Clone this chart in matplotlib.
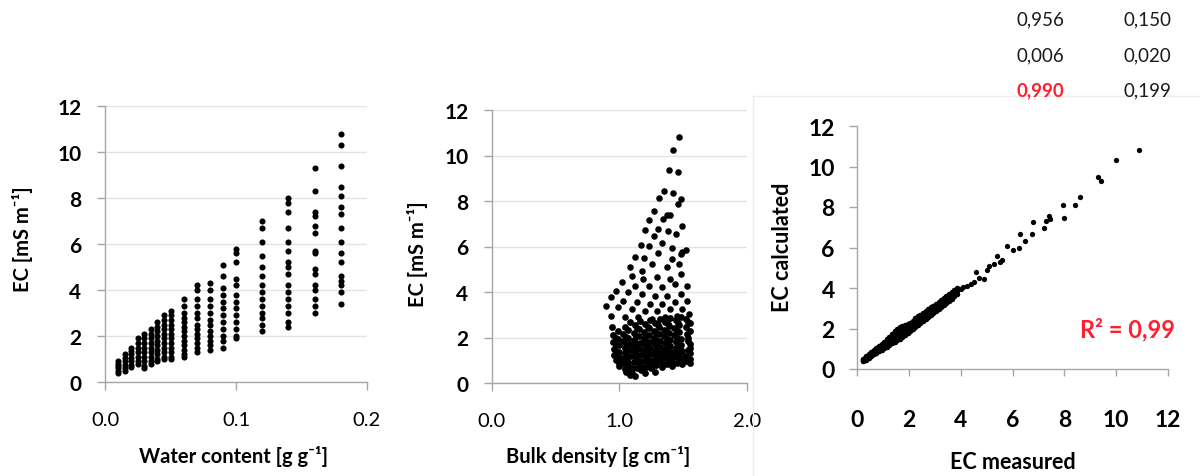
import matplotlib
matplotlib.use("Agg")
import matplotlib.pyplot as plt
from matplotlib.lines import Line2D

plt.rcParams['font.family'] = ['Lato', 'DejaVu Sans']

# ---- panel 1: EC vs water content (one column of points per water content)
wc_levels = [0.01, 0.015, 0.02, 0.025, 0.03, 0.035, 0.04, 0.045, 0.05,
             0.06, 0.07, 0.08, 0.09, 0.10, 0.12, 0.14, 0.16, 0.18]
ec_by_wc = [
    [0.9, 0.8, 0.7, 0.6, 0.5, 0.4],
    [1.2, 1.05, 0.9, 0.75, 0.6, 0.5],
    [1.5, 1.35, 1.2, 1.05, 0.9, 0.75, 0.65],
    [1.9, 1.7, 1.5, 1.3, 1.1, 0.9, 0.8],
    [2.1, 1.9, 1.7, 1.5, 1.3, 1.1, 0.9, 0.7, 0.6],
    [2.3, 2.1, 1.9, 1.7, 1.5, 1.3, 1.1, 0.9, 0.8],
    [2.6, 2.4, 2.2, 2.0, 1.8, 1.6, 1.4, 1.2, 1.0, 0.9],
    [2.9, 2.7, 2.5, 2.3, 2.1, 1.9, 1.7, 1.5, 1.3, 1.1, 1.0],
    [3.1, 2.9, 2.7, 2.5, 2.3, 2.1, 1.9, 1.7, 1.5, 1.3, 1.1, 1.0],
    [3.6, 3.3, 3.0, 2.8, 2.6, 2.4, 2.2, 2.0, 1.8, 1.6, 1.4, 1.2, 1.1],
    [4.2, 4.0, 3.6, 3.3, 3.0, 2.8, 2.5, 2.3, 2.1, 1.9, 1.7, 1.5, 1.3],
    [4.3, 4.0, 3.6, 3.3, 3.0, 2.7, 2.5, 2.2, 2.0, 1.8, 1.6, 1.4],
    [5.1, 4.6, 4.1, 3.8, 3.5, 3.2, 2.9, 2.6, 2.3, 2.0, 1.8, 1.5],
    [5.8, 5.6, 5.2, 4.5, 4.2, 3.8, 3.5, 3.2, 2.9, 2.6, 2.3, 2.0, 1.9],
    [7.0, 6.7, 6.1, 5.5, 5.0, 4.6, 4.2, 3.9, 3.6, 3.3, 3.0, 2.8, 2.5, 2.2],
    [8.0, 7.8, 7.4, 6.7, 6.1, 5.7, 5.2, 5.0, 4.7, 4.2, 3.9, 3.6, 3.3, 3.0, 2.6, 2.4],
    [9.3, 8.3, 7.4, 7.2, 6.8, 6.5, 5.7, 5.6, 4.9, 4.7, 4.2, 4.0, 3.6, 3.3, 3.0],
    [10.8, 10.3, 9.4, 8.5, 8.1, 7.6, 7.3, 6.7, 6.1, 5.6, 5.2, 4.6, 4.4, 4.2, 3.9, 3.4],
]

# ---- panel 2: EC vs bulk density
bd_sparse = [1.466, 1.42, 1.386, 1.458, 1.347, 1.423, 1.48, 1.307, 1.458, 1.272,
             1.40, 1.373, 1.233, 1.341, 1.492, 1.20, 1.302, 1.381, 1.444, 1.272,
             1.167, 1.228, 1.333, 1.413, 1.518, 1.122, 1.193, 1.299, 1.479,
             1.41, 1.49, 1.08, 1.175, 1.254, 1.373, 1.47,
             1.095, 1.188, 1.294, 1.40, 1.486,
             1.016, 1.122, 1.228, 1.333, 1.439, 1.532,
             0.976, 1.069, 1.175, 1.28, 1.373, 1.479,
             0.937, 1.029, 1.135, 1.24, 1.333, 1.439, 1.532,
             0.897, 0.99, 1.095, 1.20, 1.294, 1.40, 1.492,
             0.937, 1.042, 1.148, 1.254, 1.36, 1.452, 1.545]
ec_sparse = [10.8, 10.25, 9.38, 9.26, 8.45, 8.35, 8.09, 8.12, 7.87, 7.57,
             7.40, 7.40, 7.18, 7.21, 6.92, 6.72, 6.77, 6.70, 6.55, 6.48,
             6.08, 6.01, 6.15, 5.93, 5.86, 5.55, 5.51, 5.71, 5.67,
             5.45, 5.74, 5.08, 4.94, 5.23, 5.08, 5.23,
             4.72, 4.57, 4.64, 4.57, 4.79,
             4.43, 4.28, 4.28, 4.20, 4.35, 4.28,
             4.06, 3.99, 3.91, 3.84, 3.84, 3.91,
             3.77, 3.62, 3.55, 3.47, 3.47, 3.55, 3.62,
             3.40, 3.33, 3.25, 3.18, 3.18, 3.25, 3.25,
             2.96, 2.89, 2.89, 2.81, 2.89, 2.96, 3.03]
bd_dense = [0.94, 1.04, 1.12, 1.20, 1.28, 1.36, 1.44, 1.52,
            0.95, 1.03, 1.11, 1.19, 1.27, 1.35, 1.43, 1.52,
            0.95, 1.03, 1.11, 1.19, 1.27, 1.35, 1.43, 1.53,
            0.96, 1.04, 1.12, 1.20, 1.28, 1.36, 1.44, 1.54,
            0.96, 1.04, 1.12, 1.20, 1.28, 1.36, 1.44, 1.55,
            0.97, 1.05, 1.13, 1.21, 1.29, 1.37, 1.45, 1.55,
            1.00, 1.07, 1.15, 1.23, 1.31, 1.39, 1.47, 1.55,
            1.05, 1.10, 1.17, 1.25, 1.33, 1.41, 1.49, 1.55,
            1.08, 1.12, 1.20, 1.28,
            1.08, 1.16, 1.24, 1.32, 1.40, 1.48,
            0.99, 1.07, 1.15, 1.23, 1.31, 1.39, 1.47, 1.55,
            0.99, 1.07, 1.15, 1.23, 1.31, 1.39, 1.47, 1.55,
            1.00, 1.08, 1.16, 1.24, 1.32, 1.40, 1.48,
            1.00, 1.08, 1.16, 1.24, 1.32, 1.40, 1.48, 1.55,
            1.01, 1.09, 1.17, 1.25, 1.33, 1.41, 1.49,
            1.03, 1.11, 1.19, 1.27, 1.35, 1.43, 1.51,
            1.08, 1.14, 1.21, 1.29, 1.37, 1.45, 1.52,
            1.14, 1.22, 1.30, 1.38, 1.46, 1.54,
            0.97, 1.05, 1.13, 1.21, 1.29, 1.37, 1.45,
            0.97, 1.05, 1.13, 1.21, 1.29, 1.37, 1.45, 1.54,
            0.98, 1.06, 1.14, 1.22, 1.30, 1.38, 1.46,
            0.98, 1.06, 1.14, 1.22, 1.30, 1.38, 1.46, 1.54,
            1.00, 1.07, 1.15, 1.23, 1.31, 1.39, 1.47,
            1.04, 1.10, 1.18, 1.26, 1.34, 1.42, 1.50]
ec_dense = [2.45, 2.45, 2.55, 2.60, 2.65, 2.70, 2.75, 2.80,
            2.10, 2.15, 2.20, 2.25, 2.30, 2.35, 2.40, 2.45,
            1.80, 1.85, 1.90, 1.95, 2.00, 2.05, 2.10, 2.15,
            1.50, 1.55, 1.60, 1.65, 1.70, 1.75, 1.80, 1.85,
            1.25, 1.30, 1.35, 1.40, 1.45, 1.50, 1.55, 1.55,
            1.00, 1.05, 1.10, 1.15, 1.20, 1.25, 1.30, 1.30,
            0.75, 0.80, 0.85, 0.90, 0.95, 1.00, 1.05, 1.05,
            0.50, 0.45, 0.55, 0.65, 0.70, 0.75, 0.85, 0.90,
            0.35, 0.32, 0.45, 0.50,
            2.67, 2.72, 2.77, 2.82, 2.87, 2.92,
            2.27, 2.32, 2.37, 2.42, 2.47, 2.52, 2.57, 2.62,
            1.95, 2.00, 2.05, 2.10, 2.15, 2.20, 2.25, 2.30,
            1.65, 1.70, 1.75, 1.80, 1.85, 1.90, 1.95,
            1.38, 1.43, 1.48, 1.53, 1.58, 1.63, 1.68, 1.72,
            1.12, 1.17, 1.22, 1.27, 1.32, 1.37, 1.42,
            0.88, 0.93, 0.98, 1.03, 1.08, 1.13, 1.18,
            0.62, 0.68, 0.72, 0.80, 0.85, 0.90, 0.98,
            2.43, 2.48, 2.53, 2.58, 2.63, 2.68,
            1.98, 2.03, 2.08, 2.13, 2.18, 2.23, 2.28,
            1.68, 1.73, 1.78, 1.83, 1.88, 1.93, 1.98, 2.00,
            1.38, 1.43, 1.48, 1.53, 1.58, 1.63, 1.68,
            1.13, 1.18, 1.23, 1.28, 1.33, 1.38, 1.43, 1.45,
            0.88, 0.93, 0.98, 1.03, 1.08, 1.13, 1.18,
            0.63, 0.66, 0.72, 0.78, 0.83, 0.88, 0.95]

# ---- panel 3: calculated vs measured EC
ec_meas_band = [0.25, 0.35, 0.45, 0.55, 0.65, 0.75, 0.85, 0.95, 1.05, 1.15,
                1.25, 1.35, 1.45, 1.55, 1.65, 1.75, 1.85, 1.95, 2.05, 2.15,
                2.25, 2.35, 2.45, 2.55, 2.65, 2.75, 2.85, 2.95, 3.05, 3.15,
                3.25, 3.35, 3.45, 3.55, 3.65, 3.75, 3.85]
ec_calc_low = [0.40, 0.45, 0.55, 0.62, 0.72, 0.80, 0.88, 0.96, 1.03, 1.10,
               1.20, 1.28, 1.35, 1.42, 1.50, 1.58, 1.68, 1.78, 1.88, 1.98,
               2.08, 2.18, 2.28, 2.38, 2.48, 2.58, 2.68, 2.78, 2.88, 2.98,
               3.08, 3.18, 3.28, 3.38, 3.48, 3.60, 3.70]
ec_calc_mid = [0.45, 0.53, 0.65, 0.73, 0.83, 0.92, 1.01, 1.10, 1.19, 1.29,
               1.40, 1.51, 1.62, 1.71, 1.79, 1.85, 1.91, 1.99, 2.08, 2.18,
               2.29, 2.39, 2.48, 2.58, 2.66, 2.76, 2.86, 2.95, 3.05, 3.15,
               3.25, 3.34, 3.44, 3.54, 3.64, 3.75, 3.85]
ec_calc_high = [0.50, 0.62, 0.75, 0.85, 0.95, 1.05, 1.15, 1.25, 1.35, 1.48,
                1.60, 1.75, 1.90, 2.00, 2.08, 2.12, 2.15, 2.20, 2.28, 2.38,
                2.50, 2.60, 2.68, 2.78, 2.85, 2.95, 3.05, 3.12, 3.22, 3.32,
                3.42, 3.50, 3.60, 3.70, 3.80, 3.90, 4.00]
ec_meas_band2 = [0.30, 0.40, 0.50, 0.60, 0.70, 0.80, 0.90, 1.00, 1.10, 1.20,
                 1.30, 1.40, 1.50, 1.60, 1.70, 1.80, 1.90, 2.00, 2.10, 2.20,
                 2.30, 2.40, 2.50, 2.60, 2.70, 2.80, 2.90, 3.00, 3.10, 3.20,
                 3.30, 3.40, 3.50, 3.60, 3.70, 3.80]
ec_calc_a = [0.45, 0.55, 0.64, 0.73, 0.82, 0.90, 0.98, 1.07, 1.15, 1.25,
             1.35, 1.44, 1.52, 1.60, 1.67, 1.74, 1.83, 1.93, 2.02, 2.12,
             2.22, 2.32, 2.42, 2.51, 2.60, 2.70, 2.80, 2.90, 3.00, 3.10,
             3.20, 3.30, 3.40, 3.50, 3.61, 3.72]
ec_calc_b = [0.52, 0.63, 0.74, 0.84, 0.94, 1.03, 1.13, 1.22, 1.32, 1.44,
             1.56, 1.69, 1.82, 1.94, 2.02, 2.07, 2.12, 2.18, 2.26, 2.35,
             2.45, 2.55, 2.64, 2.72, 2.81, 2.90, 3.00, 3.09, 3.18, 3.28,
             3.38, 3.47, 3.56, 3.66, 3.76, 3.86]
ec_meas_tail = [10.9, 10.0, 9.3, 9.4, 8.6, 8.4, 7.95, 8.0, 7.4, 7.3, 7.2, 6.8,
                6.75, 6.3, 6.25, 5.8, 5.6, 5.4, 5.1, 4.9, 4.6, 4.25, 4.0,
                4.5, 4.7, 5.0, 5.3, 5.5, 6.0, 6.5, 7.45, 4.1, 4.4]
ec_calc_tail = [10.8, 10.3, 9.5, 9.3, 8.5, 8.1, 8.1, 7.45, 7.55, 7.3, 6.96, 7.26,
                6.67, 6.67, 6.0, 6.07, 5.4, 5.6, 5.1, 4.45, 4.8, 4.1, 3.95,
                4.3, 4.5, 4.9, 5.2, 5.3, 5.9, 6.3, 7.4, 4.05, 4.2]

table_rows = [["0,956", "0,150"], ["0,006", "0,020"], ["0,990", "0,199"]]
r2_text = "R² = 0,99"

AXIS_GREY = '#a6a6a6'
GRID_GREY = '#e3e3e3'
RED = '#ff1f2f'


def style_axes(ax, grid=True):
    for s in ['top', 'right']:
        ax.spines[s].set_visible(False)
    for s in ['left', 'bottom']:
        ax.spines[s].set_color(AXIS_GREY)
        ax.spines[s].set_linewidth(1.0)
    ax.tick_params(colors=AXIS_GREY, labelcolor='black', length=6, width=1.0)
    if grid:
        ax.yaxis.grid(True, color=GRID_GREY, linewidth=1.0)
        ax.set_axisbelow(True)


def bold_ticks(ax, which):
    labels = ax.get_xticklabels() if which == 'x' else ax.get_yticklabels()
    for lbl in labels:
        lbl.set_fontweight('bold')


fig = plt.figure(figsize=(12, 4.77), dpi=100)

# faint chart-area frame behind the right panel
fig.add_artist(Line2D([753 / 1200, 753 / 1200], [0, 1 - 97 / 477], color='#eeeeee', lw=1))
fig.add_artist(Line2D([753 / 1200, 1], [1 - 97 / 477, 1 - 97 / 477], color='#eeeeee', lw=1))

yt = list(range(0, 13, 2))
ytl = [str(v) for v in yt]

# panel 1
ax1 = fig.add_axes([105 / 1200, 94 / 477, 262 / 1200, 276 / 477])
for wc, ecs in zip(wc_levels, ec_by_wc):
    ax1.plot([wc] * len(ecs), ecs, 'o', color='black', ms=4.4, mew=0)
ax1.set_xlim(0, 0.2)
ax1.set_ylim(0, 12)
ax1.set_xticks([0.0, 0.1, 0.2], ['0.0', '0.1', '0.2'], fontsize=14.5)
ax1.set_yticks(yt, ytl, fontsize=15)
style_axes(ax1)
ax1.tick_params(axis='x', pad=15)
ax1.tick_params(axis='y', pad=11)
bold_ticks(ax1, 'y')
ax1.set_xlabel('Water content [g g⁻¹]', fontsize=14.5, fontweight='bold', va='center')
ax1.set_ylabel('EC [mS m⁻¹]', fontsize=14.5, fontweight='bold', va='center')
ax1.xaxis.set_label_coords(0.49, -0.268)
ax1.yaxis.set_label_coords(-0.313, 0.52)

# panel 2
ax2 = fig.add_axes([492 / 1200, 93 / 477, 255 / 1200, 273 / 477])
ax2.plot(bd_dense, ec_dense, 'o', color='black', ms=4.9, mew=0)
ax2.plot(bd_sparse, ec_sparse, 'o', color='black', ms=4.7, mew=0)
ax2.set_xlim(0, 2)
ax2.set_ylim(0, 12)
ax2.set_xticks([0.0, 1.0, 2.0], ['0.0', '1.0', '2.0'], fontsize=14.5)
ax2.set_yticks(yt, ytl, fontsize=15)
style_axes(ax2)
ax2.tick_params(axis='x', pad=15)
ax2.tick_params(axis='y', pad=11)
bold_ticks(ax2, 'y')
ax2.set_xlabel('Bulk density [g cm⁻¹]', fontsize=14.5, fontweight='bold', va='center')
ax2.set_ylabel('EC [mS m⁻¹]', fontsize=14.5, fontweight='bold', va='center')
ax2.xaxis.set_label_coords(0.416, -0.267)
ax2.yaxis.set_label_coords(-0.294, 0.476)

# panel 3
ax3 = fig.add_axes([857 / 1200, 107 / 477, 311 / 1200, 243 / 477])
for calc in (ec_calc_low, ec_calc_mid, ec_calc_high):
    ax3.plot(ec_meas_band, calc, 'o', color='black', ms=4.0, mew=0)
for calc in (ec_calc_a, ec_calc_b):
    ax3.plot(ec_meas_band2, calc, 'o', color='black', ms=4.0, mew=0)
ax3.plot(ec_meas_tail, ec_calc_tail, 'o', color='black', ms=3.8, mew=0)
ax3.set_xlim(0, 12)
ax3.set_ylim(0, 12)
ax3.set_xticks(yt, ytl, fontsize=16.5)
ax3.set_yticks(yt, ytl, fontsize=16.5)
style_axes(ax3, grid=False)
ax3.tick_params(axis='x', pad=24, length=5)
ax3.tick_params(axis='y', pad=10, length=6)
bold_ticks(ax3, 'x')
bold_ticks(ax3, 'y')
ax3.set_xlabel('EC measured', fontsize=15.5, fontweight='bold', va='center')
ax3.set_ylabel('EC calculated', fontsize=15.5, fontweight='bold', va='center')
ax3.xaxis.set_label_coords(0.50, -0.379)
ax3.yaxis.set_label_coords(-0.241, 0.506)
fig.text(1175 / 1200, 1 - 330 / 477, r2_text, ha='right', va='center',
         fontsize=17, fontweight='bold', color=RED)

# small table in the top right corner
row_y = [20, 56, 91]
col_x = [1040, 1147]
for r, row in enumerate(table_rows):
    for c, val in enumerate(row):
        red = (r == 2 and c == 0)
        fig.text(col_x[c] / 1200, 1 - row_y[r] / 477, val, ha='center', va='center',
                 fontsize=13.5, color=RED if red else '#1a1a1a',
                 fontweight='bold' if red else 'normal')

fig.savefig('out.png', dpi=100)
